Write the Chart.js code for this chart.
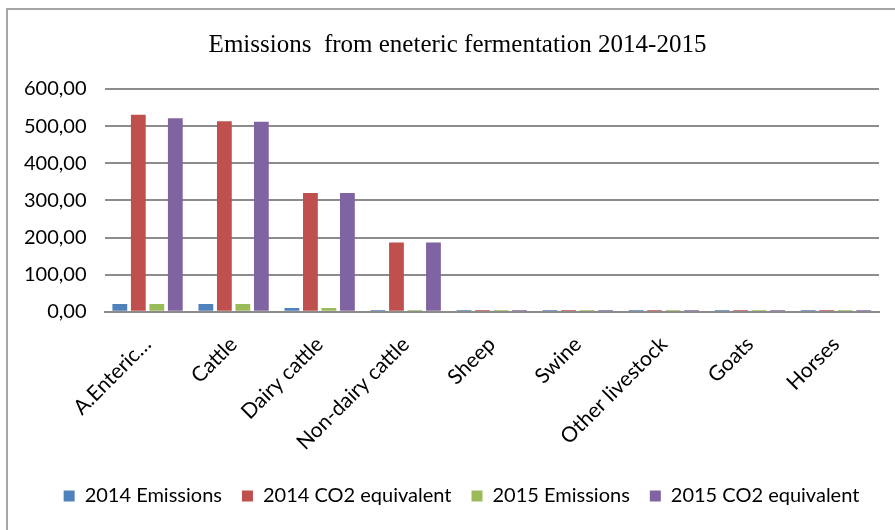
<!DOCTYPE html>
<html>
<head>
<meta charset="utf-8">
<script src="https://cdn.jsdelivr.net/npm/chart.js@4/dist/chart.umd.min.js"></script>
<style>
  html, body { margin: 0; padding: 0; background: #fff; }
  #wrap { position: relative; width: 895px; height: 530px; }
  #frame { position: absolute; left: 6px; top: 8px; right: -4px; bottom: -4px;
           border-left: 2px solid #a6a6a6; border-top: 2px solid #a6a6a6; }
  canvas { position: absolute; left: 0; top: 0; }
</style>
</head>
<body>
<div id="wrap">
  <div id="frame"></div>
  <canvas id="chart" width="895" height="530"></canvas>
</div>
<script>
// Categories and series
const categories = ['A.Enteric…', 'Cattle', 'Dairy cattle', 'Non-dairy cattle', 'Sheep', 'Swine', 'Other livestock', 'Goats', 'Horses'];
const emissions2014 = [21.2, 21.0, 10.3, 5.3, 5, 5, 5, 5, 5];
const co2eq2014 = [531, 513, 320, 187, 5, 5, 5, 5, 5];
const emissions2015 = [21.0, 20.9, 10.3, 5.2, 5, 5, 5, 5, 5];
const co2eq2015 = [521, 512, 320, 187, 5, 5, 5, 5, 5];
const yTicks = [0, 100, 200, 300, 400, 500, 600];

const font = "Lato, 'Open Sans', sans-serif";

function makeSet(label, data, color) {
  return {
    label: label,
    data: data,
    backgroundColor: color,
    borderWidth: 0,
    categoryPercentage: 0.86,
    barPercentage: 0.8
  };
}

// nudge title and legend a bit right, like the Excel original
const nudge = {
  id: 'nudge',
  afterLayout(chart) {
    const t = chart.titleBlock;
    if (t) { t.left += 15; t.right += 15; }
    const l = chart.legend;
    if (l) { l.left += 19; l.right += 19; }
  }
};

const ctx = document.getElementById('chart').getContext('2d');
new Chart(ctx, {
  type: 'bar',
  data: {
    labels: categories,
    datasets: [
      makeSet('2014 Emissions', emissions2014, '#4F81BD'),
      makeSet('2014 CO2 equivalent', co2eq2014, '#C0504D'),
      makeSet('2015 Emissions', emissions2015, '#9BBB59'),
      makeSet('2015 CO2 equivalent', co2eq2015, '#8064A2')
    ]
  },
  plugins: [nudge],
  options: {
    responsive: false,
    animation: false,
    layout: { padding: { left: 6, right: 16, top: 14, bottom: 14 } },
    plugins: {
      title: {
        display: true,
        text: 'Emissions  from eneteric fermentation 2014-2015',
        color: '#000',
        font: { family: "'Liberation Serif', 'Times New Roman', serif", size: 25, weight: 'normal' },
        padding: { top: 16, bottom: 29 }
      },
      legend: {
        position: 'bottom',
        labels: {
          color: '#000',
          font: { family: font, size: 20 },
          boxWidth: 11,
          boxHeight: 11,
          padding: 20
        }
      },
      tooltip: { enabled: false }
    },
    scales: {
      x: {
        grid: { display: false },
        border: { color: '#8c8c8c', width: 2 },
        afterFit: s => { s.paddingLeft = 0; s.paddingRight = 0; s.height -= 1; },
        ticks: {
          color: '#000',
          padding: 12,
          font: { family: font, size: 21 },
          minRotation: 45,
          maxRotation: 45,
          autoSkip: false
        }
      },
      y: {
        min: 0,
        max: 600,
        afterBuildTicks: axis => { axis.ticks = yTicks.map(v => ({ value: v })); },
        grid: { color: '#8c8c8c', lineWidth: 2, drawTicks: false },
        border: { display: false },
        ticks: {
          color: '#000',
          padding: 18,
          font: { family: font, size: 20 },
          callback: v => v.toFixed(2).replace('.', ',')
        }
      }
    }
  }
});
</script>
</body>
</html>
